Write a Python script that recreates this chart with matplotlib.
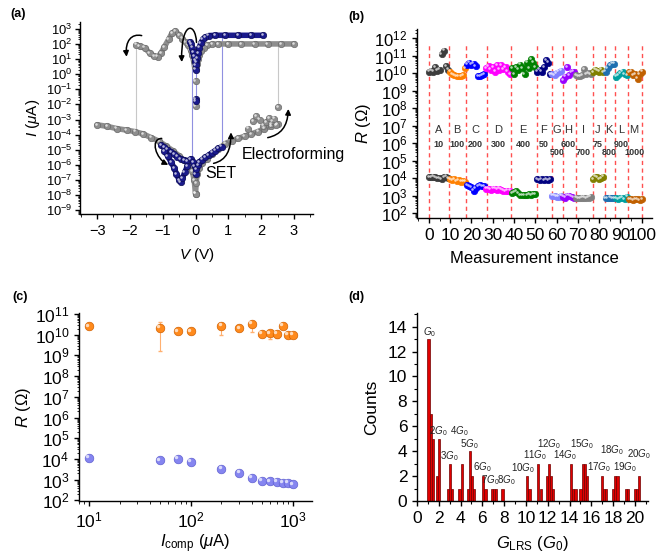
import numpy as np
import matplotlib
matplotlib.use('Agg')
import matplotlib.pyplot as plt
from matplotlib import transforms
from matplotlib.patches import FancyArrowPatch
from matplotlib.path import Path
from matplotlib.ticker import LogLocator, MultipleLocator, NullFormatter

plt.rcParams['font.family'] = ['Liberation Sans', 'DejaVu Sans']
plt.rcParams['mathtext.fontset'] = 'custom'
plt.rcParams['mathtext.rm'] = 'Liberation Sans'
plt.rcParams['mathtext.it'] = 'Liberation Sans:italic'
plt.rcParams['mathtext.bf'] = 'Liberation Sans:bold'
plt.rcParams['axes.linewidth'] = 1.0
plt.rcParams['xtick.direction'] = 'out'
plt.rcParams['ytick.direction'] = 'out'

# ---------------- (a) I-V sweeps, current stored as log10(I / uA) ----------------
form_neg_v = [-3.0, -2.7, -2.4, -2.1, -1.85, -1.6, -1.35, -1.1, -0.9, -0.7, -0.5, -0.35, -0.2, -0.1, -0.04, 0.0]
form_neg_i = [-3.35, -3.45, -3.6, -3.7, -3.8, -3.95, -4.2, -4.45, -4.75, -5.05, -5.4, -5.7, -6.0, -6.4, -7.0, -7.9]
form_pos_v = [0.0, 0.02, 0.05, 0.1, 0.2, 0.35, 0.5, 0.7, 0.9, 1.1, 1.3, 1.5, 1.7, 1.9, 2.1, 2.3, 2.5]
form_pos_i = [-7.9, -7.2, -6.6, -6.2, -5.9, -5.6, -5.3, -4.95, -4.6, -4.4, -4.25, -4.1, -3.95, -3.8, -3.6, -3.45, -3.3]
form_scatter_v = [1.6, 1.75, 1.85, 1.95, 2.05, 2.15, 2.25, 2.3, 2.35, 2.4, 2.45, 2.52]
form_scatter_i = [-3.6, -3.1, -2.8, -3.0, -3.4, -3.15, -2.9, -3.3, -3.1, -2.95, -3.35, -2.2]
form_on_pos_v = [3.0, 2.6, 2.2, 1.8, 1.4, 1.0, 0.7, 0.5, 0.35, 0.25, 0.18, 0.12, 0.08, 0.05, 0.03]
form_on_pos_i = [2.0, 2.0, 2.0, 2.0, 2.0, 2.0, 2.0, 1.98, 1.9, 1.75, 1.55, 1.3, 1.0, 0.7, 0.35]
form_on_zero_v = [0.0, 0.0]
form_on_zero_i = [-0.45, -2.1]
form_on_neg_v = [-0.03, -0.06, -0.1, -0.15, -0.22, -0.3, -0.4, -0.5, -0.62, -0.72, -0.82, -0.95,
                 -1.05, -1.15, -1.27, -1.4, -1.55, -1.7, -1.8]
form_on_neg_i = [0.5, 0.9, 1.25, 1.6, 1.9, 2.1, 2.35, 2.6, 2.85, 2.7, 2.3, 1.8, 1.4, 1.15, 1.2, 1.4, 1.75, 1.85, 1.95]

cyc_off_v = [-1.05, -0.95, -0.85, -0.75, -0.65, -0.55, -0.45, -0.35, -0.25, -0.15, -0.08, -0.03]
cyc_off_i = [-4.7, -4.85, -5.0, -5.15, -5.3, -5.45, -5.6, -5.7, -5.75, -5.6, -5.8, -6.1]
cyc_lobe_v = [-0.95, -0.85, -0.75, -0.65, -0.58, -0.5, -0.45, -0.4, -0.33, -0.25]
cyc_lobe_i = [-5.1, -5.4, -5.8, -6.2, -6.6, -7.0, -7.15, -6.9, -6.5, -6.1]
cyc_set_v = [0.0, 0.03, 0.07, 0.12, 0.2, 0.3, 0.4, 0.5, 0.6, 0.7, 0.8]
cyc_set_i = [-6.6, -6.3, -6.0, -5.8, -5.65, -5.5, -5.35, -5.2, -5.05, -4.9, -4.8]
cyc_on_pos_v = [2.05, 1.7, 1.3, 0.9, 0.6, 0.4, 0.3, 0.22, 0.16, 0.11, 0.07, 0.04, 0.02]
cyc_on_pos_i = [2.57, 2.57, 2.57, 2.57, 2.57, 2.55, 2.45, 2.3, 2.05, 1.75, 1.4, 1.05, 0.8]
cyc_on_neg_v = [-0.17, -0.14, -0.11, -0.08, -0.05, -0.02, 0.0]
cyc_on_neg_i = [2.13, 2.0, 1.75, 1.45, 1.2, 0.9, 0.6]
cyc_zero_v = [0.0, 0.0, 0.0]
cyc_zero_i = [0.3, -1.65, -1.8]

# ---------------- (b) resistance over measurement instances (log10 R) ----------------
seg_letters = ['A', 'B', 'C', 'D', 'E', 'F', 'G', 'H', 'I', 'J', 'K', 'L', 'M']
seg_icomp = ['10', '100', '200', '300', '400', '50', '500', '600', '700', '75', '800', '900', '1000']
seg_colors = ['#3c3c3c', '#ff8000', '#0000ff', '#ff00ff', '#008000', '#000080', '#8080ff',
              '#9900ff', '#808080', '#808000', '#1f6fb0', '#00a0a0', '#c06000']
seg_first = [0, 10, 18, 27, 39, 51, 58, 63, 69, 77, 83, 88, 94]
seg_bounds = [0, 9.5, 17.5, 27.2, 38.5, 50.8, 58.0, 63.0, 68.9, 77.2, 82.5, 87.5, 93.6, 100]
hrs_log = [
    [10.1, 10.15, 10.1, 10.35, 10.15, 10.2, 11.1, 11.3, 10.4, 10.2],
    [10.1, 9.95, 9.9, 9.85, 9.85, 9.85, 9.9, 10.3],
    [10.5, 10.6, 10.5, 10.55, 10.4, 9.85, 9.85, 9.9, 9.95],
    [10.3, 10.4, 10.2, 10.35, 10.1, 10.45, 10.2, 10.45, 10.25, 10.35, 10.1, 9.95],
    [10.3, 9.95, 10.35, 10.2, 10.5, 10.3, 9.95, 10.6, 10.3, 10.8, 10.6, 10.35],
    [10.1, 10.2, 10.1, 10.35, 10.75, 10.6, 9.95],
    [9.95, 9.9, 10.0, 10.1, 10.15],
    [9.6, 9.8, 10.35, 9.9, 10.05, 10.1],
    [9.9, 9.85, 9.85, 9.9, 10.25, 9.95, 10.0, 9.95],
    [10.05, 10.2, 10.15, 10.1, 10.2, 10.05],
    [10.1, 10.3, 10.45, 10.55, 10.55],
    [9.8, 9.9, 10.0, 10.1, 9.95, 9.9],
    [10.05, 10.1, 9.9, 9.95, 9.7, 9.95, 10.1],
]
lrs_log = [
    [4.05, 4.05, 4.1, 4.05, 4.0, 4.0, 3.95, 4.05, 4.1, 4.0],
    [3.95, 3.9, 3.95, 3.85, 3.9, 3.8, 3.85, 3.8],
    [3.6, 3.55, 3.5, 3.3, 3.45, 3.55, 3.6, 3.55, 3.55],
    [3.4, 3.4, 3.35, 3.4, 3.4, 3.35, 3.4, 3.35, 3.3, 3.25, 3.3, 3.3],
    [3.15, 3.2, 3.25, 3.15, 3.05, 3.05, 3.05, 3.05, 3.1, 3.05, 3.1, 3.1],
    [3.95, 3.9, 3.95, 3.9, 3.95, 3.9, 3.95],
    [3.0, 3.0, 2.95, 2.95, 3.0],
    [2.95, 2.9, 3.0, 3.0, 2.95, 2.9],
    [2.9, 2.85, 2.85, 2.9, 2.9, 2.85, 2.9, 2.95],
    [3.95, 4.1, 4.05, 3.95, 4.0, 4.1],
    [2.85, 2.85, 2.9, 2.85, 2.85],
    [2.85, 2.8, 2.85, 2.9, 2.8, 2.95],
    [2.8, 2.8, 2.75, 2.8, 2.8, 2.75, 2.8],
]
icomp_low_row = ['G', 'I', 'K', 'M']

# ---------------- (c) mean resistance vs compliance current ----------------
icomp = [10, 50, 75, 100, 200, 300, 400, 500, 600, 700, 800, 900, 1000]
hrs_mean_log = [10.41, 10.33, 10.16, 10.16, 10.44, 10.31, 10.52, 10.04, 10.07, 10.04, 10.44, 9.99, 9.99]
hrs_lo_log = [10.36, 9.23, 10.11, 10.11, 10.0, 10.26, 10.12, 9.99, 9.78, 9.82, 10.39, 9.95, 9.95]
hrs_hi_log = [10.46, 10.62, 10.21, 10.21, 10.58, 10.36, 10.6, 10.09, 10.15, 10.1, 10.49, 10.03, 10.03]
lrs_mean_log = [4.04, 3.93, 4.0, 3.85, 3.53, 3.33, 3.08, 2.96, 2.92, 2.88, 2.85, 2.84, 2.77]

# ---------------- (d) histogram of LRS conductance in units of G0 ----------------
g_centers = [1.05, 1.28, 1.47, 1.83, 2.05, 2.85, 3.03, 3.23, 3.9, 4.1, 4.65, 4.85, 5.05, 5.25,
             6.08, 6.28, 6.87, 7.05, 7.25, 7.85, 10.1, 10.32, 11.12, 11.35, 11.91, 12.1, 12.31,
             12.5, 14.13, 14.34, 14.55, 15.0, 15.2, 15.4, 15.6, 16.95, 17.15, 17.36, 18.0, 18.2,
             18.4, 19.18, 19.39, 19.98, 20.18, 20.38]
g_counts = [13, 7, 5, 2, 5, 1, 3, 1, 1, 3, 1, 4, 2, 1,
            2, 1, 1, 1, 1, 1, 2, 1, 3, 1, 2, 3, 2,
            1, 3, 1, 1, 1, 3, 3, 2, 2, 1, 1, 1, 2,
            2, 1, 1, 1, 1, 2]
quanta_labels = ['$G_0$', '$2G_0$', '$3G_0$', '$4G_0$', '$5G_0$', '$6G_0$', '$7G_0$', '$8G_0$',
                 '$10G_0$', '$11G_0$', '$12G_0$', '$14G_0$', '$15G_0$', '$17G_0$', '$18G_0$',
                 '$19G_0$', '$20G_0$']
quanta_x = [1.16, 1.96, 2.97, 3.86, 4.78, 6.03, 6.75, 8.2, 9.68, 10.8, 12.07, 13.57, 15.16,
            16.72, 17.86, 19.08, 20.4]
quanta_y = [13.6, 5.6, 3.6, 5.6, 4.6, 2.7, 1.67, 1.67, 2.64, 3.7, 4.6, 3.7, 4.6, 2.7, 4.1, 2.7, 3.8]


def balls(ax, x, y, face, edge, ms, z=3):
    # shaded sphere look: coloured disc plus a small offset highlight
    ax.plot(x, y, ls='none', marker='o', ms=ms, mfc=face, mec=edge, mew=0.5, zorder=z)
    shine = transforms.offset_copy(ax.transData, fig=ax.figure, x=-0.2 * ms, y=0.2 * ms, units='points')
    ax.plot(x, y, ls='none', marker='o', ms=0.4 * ms, mfc='white', mec='none', alpha=0.7,
            transform=shine, zorder=z + 0.1)


def tube(ax, v, logi, color, edge, z=3):
    i = 10.0 ** np.asarray(logi)
    ax.plot(v, i, color=color, lw=4, solid_capstyle='round', zorder=z)
    balls(ax, v, i, color, edge, 4.6, z + 0.2)


def curved_arrow(ax, pts):
    verts = [(v, 10.0 ** l) for v, l in pts]
    path = Path(verts, [Path.MOVETO, Path.CURVE4, Path.CURVE4, Path.CURVE4])
    arr = FancyArrowPatch(path=path, arrowstyle='-|>', mutation_scale=8, lw=1.1, color='k',
                          transform=ax.transData, clip_on=False, zorder=10)
    ax.add_artist(arr)


fig = plt.figure(figsize=(6.62, 5.55), dpi=100)

# ---------------- panel (a) ----------------
ax = fig.add_axes([80 / 662, 1 - 214 / 555, 233 / 662, 192 / 555])
gray, gray_e = '#8e8e8e', '#6a6a6a'
navy, navy_e = '#1a1a8c', '#0c0c55'
ax.vlines(-1.8, 10 ** -3.8, 10 ** 1.95, color='#c8c8c8', lw=0.8, zorder=1)
ax.vlines(2.52, 10 ** -2.2, 10 ** 2.0, color='#c8c8c8', lw=0.8, zorder=1)
ax.vlines(-0.115, 10 ** -5.5, 10 ** 2.13, color='#9090e0', lw=0.8, zorder=1)
ax.vlines(0.81, 10 ** -4.8, 10 ** 2.57, color='#9090e0', lw=0.8, zorder=1)
ax.vlines(0.0, 10 ** -1.8, 10 ** 0.6, color='#9090e0', lw=0.8, zorder=1)

tube(ax, form_neg_v, form_neg_i, gray, gray_e)
tube(ax, form_pos_v, form_pos_i, gray, gray_e)
balls(ax, form_scatter_v, 10.0 ** np.array(form_scatter_i), gray, gray_e, 4.6, 3.2)
tube(ax, form_on_pos_v, form_on_pos_i, gray, gray_e)
balls(ax, form_on_zero_v, 10.0 ** np.array(form_on_zero_i), gray, gray_e, 4.6, 3.2)
tube(ax, form_on_neg_v, form_on_neg_i, gray, gray_e)

tube(ax, cyc_off_v, cyc_off_i, navy, navy_e, 5)
tube(ax, cyc_lobe_v, cyc_lobe_i, navy, navy_e, 5)
tube(ax, cyc_set_v, cyc_set_i, navy, navy_e, 5)
tube(ax, cyc_on_pos_v, cyc_on_pos_i, navy, navy_e, 5)
tube(ax, cyc_on_neg_v, cyc_on_neg_i, navy, navy_e, 5)
balls(ax, cyc_zero_v, 10.0 ** np.array(cyc_zero_i), navy, navy_e, 4.6, 5.2)

curved_arrow(ax, [(-1.64, 2.55), (-1.95, 2.7), (-2.15, 2.2), (-2.1, 1.15)])
curved_arrow(ax, [(0.03, 2.1), (0.0, 3.5), (-0.45, 3.5), (-0.42, 0.8)])
curved_arrow(ax, [(-1.03, -4.25), (-1.4, -4.3), (-1.2, -5.6), (-0.83, -6.0)])
curved_arrow(ax, [(0.55, -5.9), (0.95, -5.7), (1.08, -5.0), (1.08, -3.85)])
curved_arrow(ax, [(2.2, -4.2), (2.6, -4.0), (2.8, -3.5), (2.83, -2.3)])
ax.text(0.77, 10 ** -6.55, 'SET', ha='center', va='center', fontsize=11.5)
ax.text(1.41, 10 ** -5.34, 'Electroforming', ha='left', va='center', fontsize=11.5, clip_on=False)

ax.set_yscale('log')
ax.set_xlim(-3.52, 3.58)
ax.set_ylim(10 ** -9.25, 10 ** 3.45)
ax.yaxis.set_major_locator(LogLocator(base=10, numticks=30))
ax.yaxis.set_minor_locator(LogLocator(base=10, subs=np.arange(2, 10), numticks=30))
ax.yaxis.set_minor_formatter(NullFormatter())
ax.xaxis.set_major_locator(MultipleLocator(1))
ax.xaxis.set_minor_locator(MultipleLocator(0.5))
ax.tick_params(axis='x', labelsize=10.5, length=3.5, width=1)
ax.tick_params(axis='y', labelsize=9.4, length=3.5, width=1, pad=2)
ax.tick_params(which='minor', length=1.8, width=0.6)
ax.set_xlabel('$V$ (V)', fontsize=11, labelpad=6)
ax.set_ylabel('$I$ ($\\mu$A)', fontsize=11, labelpad=3)
ax.spines['top'].set_visible(False)
ax.spines['right'].set_visible(False)

# ---------------- panel (b) ----------------
bx = fig.add_axes([417 / 662, 1 - 218 / 555, 235 / 662, 189 / 555])
bx.vlines(seg_bounds, 10 ** 1.73, 10 ** 11.7, colors='#ff5050', linestyles=(0, (3, 2.5)), lw=1.0, zorder=1)
for k in range(len(seg_letters)):
    xs = np.arange(seg_first[k], seg_first[k] + len(hrs_log[k]))
    balls(bx, xs, 10.0 ** np.array(hrs_log[k]), seg_colors[k], seg_colors[k], 4.6)
    balls(bx, xs, 10.0 ** np.array(lrs_log[k]), seg_colors[k], seg_colors[k], 4.6)
    mid = 0.5 * (seg_bounds[k] + seg_bounds[k + 1]) - 0.4
    bx.text(mid, 10 ** 6.78, seg_letters[k], ha='center', va='center', fontsize=8, color='#333333')
    row = 5.47 if seg_letters[k] in icomp_low_row else 5.92
    bx.text(mid, 10 ** row, seg_icomp[k], ha='center', va='center', fontsize=6.5,
            fontweight='bold', color='#333333')
bx.set_yscale('log')
bx.set_xlim(-5.6, 104.8)
bx.set_ylim(10 ** 1.73, 10 ** 12.53)
bx.yaxis.set_major_locator(LogLocator(base=10, numticks=30))
bx.yaxis.set_minor_locator(LogLocator(base=10, subs=np.arange(2, 10), numticks=30))
bx.yaxis.set_minor_formatter(NullFormatter())
bx.xaxis.set_major_locator(MultipleLocator(10))
bx.xaxis.set_minor_locator(MultipleLocator(5))
bx.tick_params(axis='x', labelsize=12.5, length=3.5, width=1)
bx.tick_params(axis='y', labelsize=12, length=3.5, width=1)
bx.tick_params(which='minor', length=1.8, width=0.6)
bx.set_xlabel('Measurement instance', fontsize=12, labelpad=6)
bx.set_ylabel('$R$ ($\\Omega$)', fontsize=12, labelpad=1)
bx.spines['top'].set_visible(False)
bx.spines['right'].set_visible(False)

# ---------------- panel (c) ----------------
cx = fig.add_axes([79 / 662, 1 - 501 / 555, 233 / 662, 188 / 555])
hrs_mean = 10.0 ** np.array(hrs_mean_log)
err = [hrs_mean - 10.0 ** np.array(hrs_lo_log), 10.0 ** np.array(hrs_hi_log) - hrs_mean]
cx.errorbar(icomp, hrs_mean, yerr=err, fmt='none', ecolor='#ffb070', elinewidth=0.8, capsize=1.5, zorder=2)
balls(cx, icomp, hrs_mean, '#ff8a1c', '#d06000', 6.2)
balls(cx, icomp, 10.0 ** np.array(lrs_mean_log), '#8585f0', '#6060d0', 6.2)
cx.set_xscale('log')
cx.set_yscale('log')
cx.set_xlim(8, 1550)
cx.set_ylim(10 ** 1.97, 10 ** 11.05)
cx.yaxis.set_major_locator(LogLocator(base=10, numticks=30))
cx.yaxis.set_minor_locator(LogLocator(base=10, subs=np.arange(2, 10), numticks=30))
cx.yaxis.set_minor_formatter(NullFormatter())
cx.xaxis.set_minor_formatter(NullFormatter())
cx.tick_params(labelsize=12.5, length=3.5, width=1)
cx.tick_params(which='minor', length=1.8, width=0.6)
cx.set_xlabel('$I_{\\rm comp}$ ($\\mu$A)', fontsize=12, labelpad=1)
cx.set_ylabel('$R$ ($\\Omega$)', fontsize=12, labelpad=1)
cx.spines['top'].set_visible(False)
cx.spines['right'].set_visible(False)

# ---------------- panel (d) ----------------
dx = fig.add_axes([417 / 662, 1 - 501 / 555, 231 / 662, 188 / 555])
dx.bar(g_centers, g_counts, width=0.2, color='#e00000', edgecolor='#700000', lw=0.5, zorder=2)
for lab, x, y in zip(quanta_labels, quanta_x, quanta_y):
    dx.text(x, y, lab, ha='center', va='center', fontsize=7.0, color='#222222')
dx.set_xlim(0, 21.2)
dx.set_ylim(0, 15.1)
dx.xaxis.set_major_locator(MultipleLocator(2))
dx.xaxis.set_minor_locator(MultipleLocator(1))
dx.yaxis.set_major_locator(MultipleLocator(2))
dx.yaxis.set_minor_locator(MultipleLocator(1))
dx.tick_params(labelsize=12.5, length=3.5, width=1)
dx.tick_params(which='minor', length=2, width=0.8)
dx.set_xlabel('$G_{\\rm LRS}$ ($G_0$)', fontsize=12, labelpad=6)
dx.set_ylabel('Counts', fontsize=12.5, labelpad=6)
dx.spines['top'].set_visible(False)
dx.spines['right'].set_visible(False)

for lab, (px, py) in zip(['(a)', '(b)', '(c)', '(d)'], [(18, 14), (356, 17), (20, 297), (356, 297)]):
    fig.text(px / 662, 1 - py / 555, lab, ha='center', va='center', fontsize=9, fontweight='bold')

fig.savefig('out.png', dpi=100)
